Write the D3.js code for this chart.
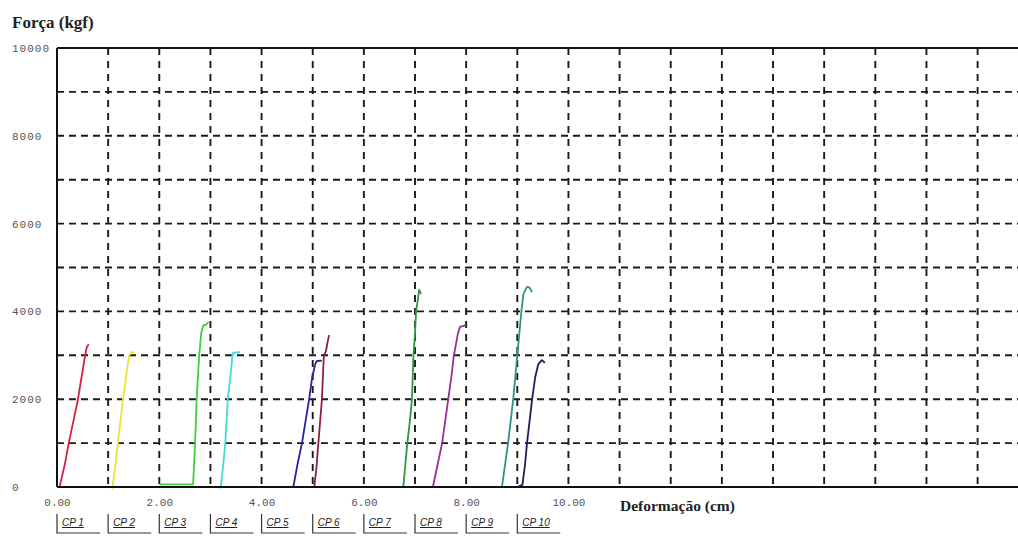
<!DOCTYPE html>
<html>
<head>
<meta charset="utf-8">
<script src="https://cdn.jsdelivr.net/npm/d3@7"></script>
<style>
  body { margin: 0; background: #fff; }
  svg { display: block; }
  .tick-label { font-family: "Liberation Mono", monospace; font-size: 11px; fill: #555; }
  .title { font-family: "Liberation Serif", serif; font-weight: bold; fill: #222; }
  .legend text { font-family: "Liberation Sans", sans-serif; font-style: italic; font-size: 10px; fill: #222; text-decoration: underline; }
</style>
</head>
<body>
<svg id="chart" width="1018" height="536"></svg>
<script>
// series: [deformacao (cm), forca (kgf)]
var names = ["CP 1", "CP 2", "CP 3", "CP 4", "CP 5", "CP 6", "CP 7", "CP 8", "CP 9", "CP 10"];
var colors = ["#d0213f", "#e6e63a", "#3fcf3f", "#3fdada", "#2323a3", "#8e1f3f", "#2f963b", "#962f96", "#2c9486", "#1d1d5c"];

var cp1 = [[0.05, 0], [0.08, 150], [0.15, 500], [0.23, 1000], [0.32, 1500], [0.41, 2000], [0.48, 2500], [0.55, 3000], [0.58, 3180], [0.62, 3250]];
var cp2 = [[1.08, -50], [1.12, 300], [1.19, 1000], [1.24, 1500], [1.29, 2000], [1.35, 2500], [1.41, 3000], [1.46, 3070], [1.52, 3060]];
var cp3 = [[2.0, 60], [2.66, 60], [2.68, 500], [2.70, 1000], [2.73, 2000], [2.78, 3000], [2.82, 3500], [2.86, 3680], [2.92, 3700], [2.96, 3760]];
var cp4 = [[3.2, -30], [3.25, 500], [3.29, 1000], [3.34, 2000], [3.39, 2500], [3.43, 3000], [3.45, 3060], [3.58, 3070]];
var cp5 = [[4.62, 0], [4.70, 500], [4.79, 1000], [4.86, 1500], [4.93, 2000], [4.99, 2500], [5.05, 2800], [5.08, 2870], [5.18, 2880]];
var cp6 = [[5.03, 0], [5.07, 400], [5.11, 1000], [5.18, 2000], [5.21, 2800], [5.22, 3000], [5.26, 3100], [5.29, 3300], [5.32, 3460]];
var cp7 = [[6.77, 0], [6.81, 500], [6.85, 1000], [6.90, 1500], [6.94, 2000], [6.97, 3000], [7.0, 3500], [7.02, 4000], [7.06, 4300], [7.08, 4490], [7.12, 4400]];
var cp8 = [[7.35, 0], [7.44, 500], [7.53, 1000], [7.59, 1500], [7.65, 2000], [7.71, 2500], [7.76, 3000], [7.84, 3500], [7.88, 3650], [7.98, 3680]];
var cp9 = [[8.70, 0], [8.76, 500], [8.82, 1000], [8.87, 1500], [8.92, 2000], [9.00, 3000], [9.08, 4000], [9.12, 4400], [9.19, 4560], [9.24, 4540], [9.29, 4440]];
var cp10 = [[9.00, 0], [9.10, 50], [9.15, 500], [9.19, 1000], [9.24, 1500], [9.29, 2000], [9.35, 2500], [9.41, 2800], [9.48, 2890], [9.54, 2830]];
var series = [cp1, cp2, cp3, cp4, cp5, cp6, cp7, cp8, cp9, cp10];

var yTicks = [0, 2000, 4000, 6000, 8000, 10000];
var xTicks = [0, 2, 4, 6, 8, 10];
var yGrid = d3.range(1000, 10000, 1000);
var xGrid = d3.range(1, 19, 1);

var svg = d3.select("#chart"),
    margin = {top: 48, right: 0, bottom: 49, left: 57},
    W = +svg.attr("width"),
    H = +svg.attr("height");

var x = d3.scaleLinear().domain([0, 18.79]).range([margin.left, W - margin.right]);
var y = d3.scaleLinear().domain([0, 10000]).range([H - margin.bottom, margin.top]);

// dashed grid
svg.append("g").selectAll("line.h")
    .data(yGrid)
    .enter().append("line")
        .attr("x1", x(0)).attr("x2", x.range()[1])
        .attr("y1", function(d) { return y(d); })
        .attr("y2", function(d) { return y(d); })
        .attr("stroke", "#1a1a1a").attr("stroke-width", 1.9)
        .attr("stroke-dasharray", "7,5");

svg.append("g").selectAll("line.v")
    .data(xGrid)
    .enter().append("line")
        .attr("x1", function(d) { return x(d); })
        .attr("x2", function(d) { return x(d); })
        .attr("y1", y(10000)).attr("y2", y(0))
        .attr("stroke", "#1a1a1a").attr("stroke-width", 1.9)
        .attr("stroke-dasharray", "7,6");

// frame
svg.append("line").attr("x1", x(0)).attr("x2", x(0)).attr("y1", y(10000)).attr("y2", y(0))
    .attr("stroke", "#111").attr("stroke-width", 2);
svg.append("line").attr("x1", x(0)).attr("x2", x.range()[1]).attr("y1", y(10000)).attr("y2", y(10000))
    .attr("stroke", "#111").attr("stroke-width", 2);

// curves
var line = d3.line()
    .x(function(d) { return x(d[0]); })
    .y(function(d) { return y(d[1]); });

svg.append("g").selectAll("path")
    .data(series)
    .enter().append("path")
        .attr("d", line)
        .attr("fill", "none")
        .attr("stroke", function(d, i) { return colors[i]; })
        .attr("stroke-width", 1.8)
        .attr("stroke-linejoin", "round");

// bottom axis line on top of the curves
svg.append("line").attr("x1", x(0)).attr("x2", x.range()[1]).attr("y1", y(0)).attr("y2", y(0))
    .attr("stroke", "#111").attr("stroke-width", 2);

// y tick labels (left aligned, like the original)
var yAxis = d3.axisLeft(y).tickValues(yTicks).tickSize(0).tickFormat(d3.format("d"));
var gy = svg.append("g").attr("transform", "translate(12,0)").call(yAxis);
gy.select(".domain").remove();
gy.selectAll("text")
    .attr("class", "tick-label")
    .attr("x", 0)
    .attr("text-anchor", "start")
    .style("letter-spacing", "1px")
    .style("font-family", "Liberation Mono, monospace")
    .style("font-size", "11px")
    .attr("fill", "#555");

// x tick labels
var xAxis = d3.axisBottom(x).tickValues(xTicks).tickSize(0).tickFormat(d3.format(".2f"));
var gx = svg.append("g").attr("transform", "translate(0," + (y(0) + 11) + ")").call(xAxis);
gx.select(".domain").remove();
gx.selectAll("text")
    .attr("class", "tick-label")
    .attr("y", 0)
    .attr("dy", "0.71em")
    .style("font-family", "Liberation Mono, monospace")
    .style("font-size", "11px")
    .attr("fill", "#555");

// titles
svg.append("text").attr("class", "title")
    .attr("x", 12).attr("y", 28)
    .style("font-size", "17px")
    .text("Força (kgf)");

svg.append("text").attr("class", "title")
    .attr("x", 620).attr("y", 511)
    .style("font-size", "15.5px")
    .text("Deformação (cm)");

// legend
var legend = svg.append("g").attr("class", "legend").selectAll("g")
    .data(names)
    .enter().append("g")
        .attr("transform", function(d, i) { return "translate(" + x(i) + ",514)"; });

legend.append("path")
    .attr("d", "M0,0V19H43")
    .attr("fill", "none")
    .attr("stroke", "#333")
    .attr("stroke-width", 1.2);

legend.append("text")
    .attr("x", 5).attr("y", 12)
    .text(function(d) { return d; });
</script>
</body>
</html>
